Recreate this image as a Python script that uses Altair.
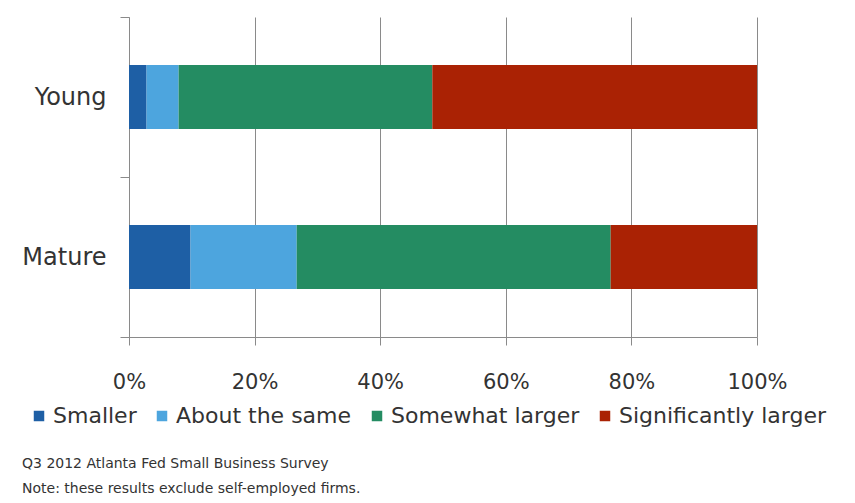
import altair as alt
import pandas as pd

groups = ["Young", "Mature"]
categories = ["Smaller", "About the same", "Somewhat larger", "Significantly larger"]
colors = ["#1E5FA5", "#4DA5DE", "#248C62", "#AA2204"]
young = [2.8, 5.1, 40.4, 51.7]
mature = [9.8, 16.9, 50.0, 23.3]
x_ticks = [0, 0.2, 0.4, 0.6, 0.8, 1.0]
notes = ["Q3 2012 Atlanta Fed Small Business Survey",
         "Note: these results exclude self-employed  firms."]

rows = []
for g, vals in zip(groups, [young, mature]):
    for i, (c, v) in enumerate(zip(categories, vals)):
        rows.append({"group": g, "response": c, "value": v / 100, "order": i})
df = pd.DataFrame(rows)

font = "DejaVu Sans"

chart = alt.Chart(df).mark_bar(size=64).encode(
    x=alt.X("sum(value):Q", stack="zero",
            scale=alt.Scale(domain=[0, 1], nice=False),
            axis=alt.Axis(values=x_ticks, format=".0%", title=None, grid=True,
                          gridColor="#8a8a8a", gridWidth=1,
                          domainColor="#8a8a8a", tickColor="#8a8a8a",
                          tickSize=8, labelFontSize=21, labelFont=font,
                          labelColor="#333333", labelPadding=26,
                          labelFlush=False)),
    y=alt.Y("group:N", sort=groups,
            scale=alt.Scale(paddingInner=0, paddingOuter=0),
            axis=alt.Axis(title=None, domainColor="#8a8a8a", tickColor="#8a8a8a",
                          tickBand="extent", tickSize=9, labelFontSize=24,
                          labelFont=font, labelColor="#333333", labelPadding=14)),
    color=alt.Color("response:N", sort=categories,
                    scale=alt.Scale(domain=categories, range=colors),
                    legend=alt.Legend(title=None, orient="none", legendX=-101, legendY=388,
                                      direction="horizontal", columns=4,
                                      symbolType="square", symbolSize=110,
                                      symbolStrokeWidth=0, symbolOffset=0,
                                      labelFontSize=22, labelFont=font,
                                      labelColor="#333333", labelOffset=3,
                                      labelLimit=0, columnPadding=14)),
    order=alt.Order("order:Q"),
).properties(
    width=628, height=320,
    autosize=alt.AutoSizeParams(type="none"),
    padding={"left": 121, "top": 9, "right": 90, "bottom": 166},
    title=alt.TitleParams(text=notes, orient="bottom", anchor="start", frame="group",
                          font=font, fontSize=14, fontWeight="normal",
                          color="#333333", dx=-107, offset=30, lineHeight=25),
).configure_view(stroke=None)

chart.save("out.html", embed_options={"renderer": "svg", "actions": False})
